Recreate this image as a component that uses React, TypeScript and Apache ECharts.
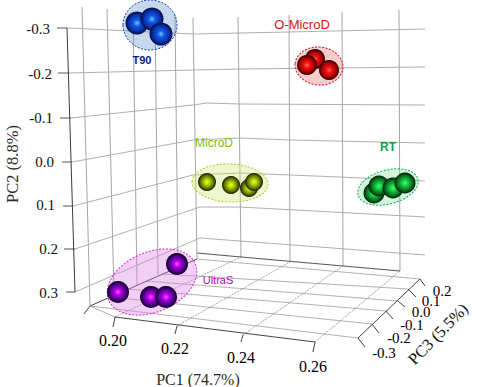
import React, { useEffect, useRef } from "react";
import * as echarts from "echarts";

// ---- data: values, on the picture's projected PC1 / PC2 scales
const t90 = [[0.2066, -0.3113], [0.2111, -0.3204], [0.2138, -0.2863]];
const oMicroD = [[0.26, -0.2295], [0.2576, -0.2159], [0.2642, -0.2045]];
const microD = [[0.2276, 0.05], [0.2348, 0.0568], [0.2402, 0.0637], [0.2417, 0.05]];
const rt = [[0.2777, 0.075], [0.2792, 0.0591], [0.2834, 0.0637], [0.287, 0.0523]];
const ultraS = [[0.2009, 0.3], [0.2186, 0.2364], [0.2108, 0.3114], [0.2153, 0.3114]];

const pc1Ticks = ["0.20", "0.22", "0.24", "0.26"];
const pc2Ticks = ["-0.3", "-0.2", "-0.1", "0.0", "0.1", "0.2", "0.3"];
const pc3Ticks = ["-0.3", "-0.2", "-0.1", "0.0", "0.1", "0.2"];

// ---- layout of the 3D frame, in page pixels
const W = 480, H = 387;
const pc2Lines = [
  [[67, 28], [193, 34], [288, 32], [425, 29]],
  [[69, 73], [193, 70], [240, 69], [425, 67]],
  [[71, 118], [193, 105], [207, 103], [240, 104], [425, 105]],
  [[72, 162], [193, 140], [240, 138], [290, 140], [425, 143]],
  [[73, 206], [193, 175], [240, 173], [340, 177], [425, 181]],
  [[75, 249], [200, 207], [240, 207], [425, 217]],
  [[75, 292], [200, 238], [240, 241], [425, 255]],
];
const pc2TickPos = [[57, 28], [58, 73], [60, 118], [62, 162], [63, 206], [64, 249], [66, 292]];
const verticals = [
  [[82, 7], [90, 306]], [[107, 9], [114, 295]], [[133, 12], [137, 285]], [[155, 12], [158, 275]],
  [[175, 15], [178, 267]], [[193, 18], [197, 259]], [[238, 17], [241, 257]], [[289, 15], [290, 262]],
  [[342, 12], [343, 266]], [[399, 10], [400, 271]],
];
const pc3Floor = [
  [[90, 306], [358, 338]], [[110, 297], [372, 324]], [[128, 289], [386, 311]],
  [[146, 281], [398, 301]], [[162, 274], [408, 289]], [[197, 259], [420, 279]],
];
const pc1Floor = [[[115, 317], [241, 257]], [[177, 326], [290, 262]], [[243, 335], [343, 266]], [[315, 342], [400, 271]]];
const pc1TickMarks = [[[115, 317], [113, 327]], [[177, 326], [175, 334]], [[243, 335], [241, 342]], [[315, 342], [313, 352]]];
const pc3TickMarks = [
  [[358, 338], [365, 347]], [[372, 324], [379, 333]], [[386, 311], [393, 319]],
  [[398, 301], [405, 307]], [[408, 289], [416, 297]], [[420, 279], [425, 286]],
];
const pc1LabelPos = [[113, 340], [175, 348], [241, 357], [313, 366]];
const pc2LabelRight = [[50, 29], [52, 74], [53, 118], [54, 162], [55, 205], [58, 249], [58, 293]];
const pc3LabelPos = [[384, 353], [399, 338], [412, 325], [421, 312], [431, 301], [442, 291]];

const clusters = [
  { name: "T90", data: t90, size: 23, stops: ["#7cc2ff", "#0a5ce8", "#0c2fa8", "#020a3a"], fill: "rgba(96,146,206,0.36)", line: "#1040b0", center: [0.2105, -0.3068], rx: 27, ry: 25, rot: 0, label: [142, 60], labelColor: "#0a1a90", font: "bold 11px" },
  { name: "O-MicroD", data: oMicroD, size: 20, stops: ["#ff6a6a", "#f41010", "#a80000", "#200000"], fill: "rgba(225,90,90,0.3)", line: "#e01020", center: [0.2612, -0.2136], rx: 24, ry: 19, rot: -0.1, label: [302, 24], labelColor: "#e01010", font: "13px" },
  { name: "MicroD", data: microD, size: 18, stops: ["#eeff40", "#b4d800", "#5f7200", "#141a00"], fill: "rgba(205,232,110,0.33)", line: "#a8d020", center: [0.2345, 0.0523], rx: 38, ry: 19, rot: -0.04, label: [214, 143], labelColor: "#7fbf00", font: "12px" },
  { name: "RT", data: rt, size: 21, stops: ["#48ff78", "#14cc44", "#076e20", "#011a06"], fill: "rgba(100,220,140,0.3)", line: "#10b050", center: [0.2819, 0.0614], rx: 31, ry: 17, rot: 0.26, label: [388, 147], labelColor: "#10a040", font: "bold 12px" },
  { name: "UltraS", data: ultraS, size: 22, stops: ["#ff50ff", "#b400e4", "#4c0088", "#0c0018"], fill: "rgba(220,130,225,0.38)", line: "#d030d8", center: [0.2111, 0.2773], rx: 47, ry: 30, rot: 0.4, label: [218, 280], labelColor: "#c000c0", font: "11px" },
];

const SERIF = '"Liberation Serif", serif';
const SANS = '"Liberation Sans", sans-serif';

const line = (pts: number[][], stroke: string, width = 1, z = 0, dash?: number[]) => ({
  type: "polyline",
  silent: true,
  z,
  shape: { points: pts },
  style: { stroke, lineWidth: width, fill: "none", lineDash: dash },
});
const text = (t: string, x: number, y: number, font: string, fill: string, align = "center", rotation = 0) => ({
  type: "text",
  silent: true,
  z: 20,
  x,
  y,
  rotation,
  style: { text: t, font, fill, align, verticalAlign: "middle", textAlign: align, textVerticalAlign: "middle" },
});

export default function App() {
  const ref = useRef<HTMLDivElement>(null);
  useEffect(() => {
    document.body.style.margin = "0";
    const chart = echarts.init(ref.current!, undefined, { renderer: "svg" });
    const elements: any[] = [];
    verticals.forEach((v) => elements.push(line(v, "#a9a5a3", 1)));
    pc2Lines.forEach((l) => elements.push(line(l, "#b2aeac", 1)));
    pc2Lines.forEach((l, i) => elements.push(line([pc2TickPos[i], l[0]], "#555", 1)));
    pc3Floor.forEach((l) => elements.push(line(l, "#b5b1af", 1)));
    pc1Floor.forEach((l) => elements.push(line(l, "#8d8d8d", 0.8, 0, [2, 1])));
    elements.push(line([[67, 28], [75, 292]], "#3a3a3a", 1));
    elements.push(line([[90, 306], [197, 259]], "#444", 1));
    elements.push(line([[84, 314], [90, 306]], "#444", 1));
    elements.push(line([[90, 306], [115, 317]], "#aaa", 1));
    elements.push(line([[115, 317], [315, 342]], "#444", 1));
    elements.push(line([[197, 253], [241, 257], [400, 271]], "#555", 1));
    elements.push(line([[358, 338], [420, 279]], "#444", 1));
    pc1TickMarks.forEach((l) => elements.push(line(l, "#444", 1)));
    pc3TickMarks.forEach((l) => elements.push(line(l, "#444", 1)));

    pc2Ticks.forEach((t, i) => elements.push(text(t, pc2LabelRight[i][0], pc2LabelRight[i][1], `15px ${SERIF}`, "#111", "right")));
    pc1Ticks.forEach((t, i) => elements.push(text(t, pc1LabelPos[i][0], pc1LabelPos[i][1], `16px ${SERIF}`, "#000")));
    pc3Ticks.forEach((t, i) => elements.push(text(t, pc3LabelPos[i][0], pc3LabelPos[i][1], `15px ${SERIF}`, "#000")));
    elements.push(text("PC1 (74.7%)", 198, 379, `16px ${SERIF}`, "#2a2a2a"));
    elements.push(text("PC2 (8.8%)", 12, 164, `16.5px ${SERIF}`, "#2a2a2a", "center", Math.PI / 2));
    elements.push(text("PC3 (5.5%)", 438, 334, `16.5px ${SERIF}`, "#111", "center", 0.8));
    clusters.forEach((c) => elements.push(text(c.name, c.label[0], c.label[1], `${c.font} ${SANS}`, c.labelColor)));

    const series: any[] = [
      {
        type: "custom",
        coordinateSystem: "cartesian2d",
        z: 1,
        silent: true,
        data: clusters.map((c) => c.center),
        renderItem: (params: any, api: any) => {
          const c = clusters[params.dataIndex];
          const p = api.coord([api.value(0), api.value(1)]);
          return {
            type: "ellipse",
            x: p[0],
            y: p[1],
            rotation: c.rot,
            shape: { cx: 0, cy: 0, rx: c.rx, ry: c.ry },
            style: { fill: c.fill, stroke: c.line, lineWidth: 1, lineDash: [2, 1.5] },
          };
        },
      },
      ...clusters.map((c) => ({
        type: "scatter",
        name: c.name,
        z: 2,
        symbol: "circle",
        symbolSize: c.size,
        silent: true,
        data: c.data,
        itemStyle: {
          opacity: 1,
          color: new echarts.graphic.RadialGradient(0.5, 0.5, 0.5, [
            { offset: 0, color: c.stops[0] },
            { offset: 0.3, color: c.stops[1] },
            { offset: 0.72, color: c.stops[2] },
            { offset: 1, color: c.stops[3] },
          ]),
        },
      })),
    ];

    chart.setOption({
      animation: false,
      backgroundColor: "#ffffff",
      grid: { left: 0, right: 0, top: 0, bottom: 0 },
      xAxis: { type: "value", min: 0.1655, max: 0.3095, show: false },
      yAxis: { type: "value", min: -0.3636, max: 0.5159, inverse: true, show: false },
      graphic: { elements },
      series,
    });
    return () => chart.dispose();
  }, []);
  return <div ref={ref} style={{ width: W, height: H }} />;
}
